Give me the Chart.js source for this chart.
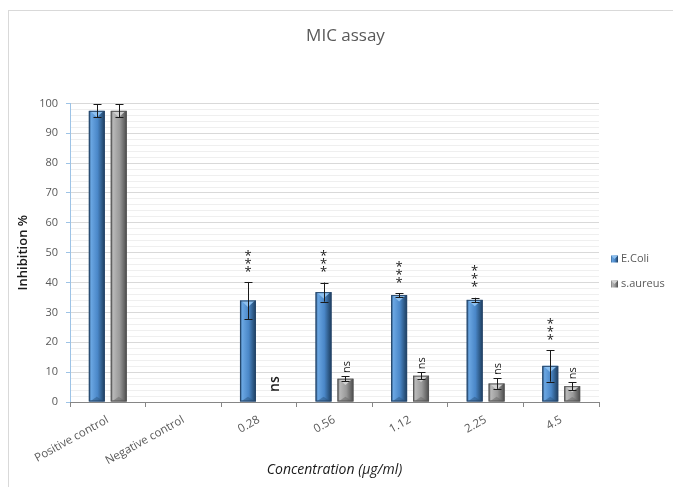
<!DOCTYPE html>
<html>
<head>
<meta charset="utf-8">
<script src="https://cdn.jsdelivr.net/npm/chart.js@4.4.1/dist/chart.umd.min.js"></script>
<style>
  html, body { margin: 0; padding: 0; background: #fff; }
</style>
</head>
<body>
<canvas id="micChart" width="673" height="487"></canvas>
<script>
// data
const categories = ['Positive control', 'Negative control', '0.28', '0.56', '1.12', '2.25', '4.5'];
const ecoliValues = [97.5, 0, 34, 36.8, 35.8, 34.2, 12.1];
const ecoliErrors = [2.2, 0, 6.2, 3.2, 0.7, 0.7, 5.3];
const aureusValues = [97.5, 0, 0, 7.8, 8.8, 6.2, 5.3];
const aureusErrors = [2.2, 0, 0, 0.9, 1.2, 1.8, 1.3];
const ecoliSig = ['', '', '***', '***', '***', '***', '***'];
const aureusSig = ['', '', 'ns', 'ns', 'ns', 'ns', 'ns'];
const seriesNames = ['E.Coli', 's.aureus'];

const FONT = "'Open Sans', 'Liberation Sans', sans-serif";
const palettes = [
    { edge: '#2b5580', dark: '#1f3d60', mid: '#4a87c8', light: '#6aa6e2', top: '#8cc0f0', line: '#27476b' },
    { edge: '#666666', dark: '#4a4a4a', mid: '#9a9a9a', light: '#b8b8b8', top: '#d0d0d0', line: '#555555' }
];
const errors = [ecoliErrors, aureusErrors];
const sigs = [ecoliSig, aureusSig];

function barFill(ctx, l, r, pal) {
    const g = ctx.createLinearGradient(l, 0, r, 0);
    g.addColorStop(0, pal.edge);
    g.addColorStop(0.15, pal.light);
    g.addColorStop(0.55, pal.mid);
    g.addColorStop(0.85, pal.edge);
    g.addColorStop(1, pal.dark);
    return g;
}

// outer frame like the spreadsheet chart box
const frame = {
    id: 'frame',
    beforeDraw(chart) {
        const ctx = chart.ctx;
        ctx.save();
        ctx.fillStyle = '#fff';
        ctx.fillRect(0, 0, chart.width, chart.height);
        ctx.strokeStyle = '#d9d9d9';
        ctx.lineWidth = 1;
        ctx.strokeRect(8.5, 10.5, chart.width + 20, chart.height + 20);
        ctx.restore();
    }
};

// bevelled bars, error bars and significance marks
const barLook = {
    id: 'barLook',
    afterDatasetsDraw(chart) {
        const ctx = chart.ctx;
        const yScale = chart.scales.y;
        ctx.save();
        chart.data.datasets.forEach((ds, di) => {
            const meta = chart.getDatasetMeta(di);
            const pal = palettes[di];
            meta.data.forEach((bar, i) => {
                const { x, y, base, width } = bar.getProps(['x', 'y', 'base', 'width'], true);
                const h = base - y;
                const l = x - width / 2, r = x + width / 2;
                if (h >= 1) {
                    ctx.fillStyle = barFill(ctx, l, r, pal);
                    ctx.fillRect(l, y, width, h);
                    const bev = Math.min(width / 2, h / 2);
                    ctx.fillStyle = pal.top;
                    ctx.beginPath();
                    ctx.moveTo(l + 1, y);
                    ctx.lineTo(r - 1, y);
                    ctx.lineTo(x, y + bev * 0.8);
                    ctx.closePath();
                    ctx.fill();
                    ctx.fillStyle = pal.edge;
                    ctx.globalAlpha = 0.5;
                    ctx.beginPath();
                    ctx.moveTo(l + 1, base);
                    ctx.lineTo(r - 1, base);
                    ctx.lineTo(x, base - bev * 0.6);
                    ctx.closePath();
                    ctx.fill();
                    ctx.globalAlpha = 1;
                    ctx.strokeStyle = pal.line;
                    ctx.lineWidth = 1;
                    ctx.strokeRect(l + 0.5, y + 0.5, width - 1, h - 1);
                }

                const v = ds.data[i];
                const e = errors[di][i];
                let markTop = y;
                if (e > 0) {
                    const yt = yScale.getPixelForValue(v + e);
                    const yb = yScale.getPixelForValue(v - e);
                    const cx = Math.round(x) + 0.5;
                    ctx.strokeStyle = '#1a1a1a';
                    ctx.lineWidth = 1;
                    ctx.beginPath();
                    ctx.moveTo(cx, yt); ctx.lineTo(cx, yb);
                    ctx.moveTo(cx - 4, Math.round(yt) + 0.5); ctx.lineTo(cx + 4, Math.round(yt) + 0.5);
                    ctx.moveTo(cx - 4, Math.round(yb) + 0.5); ctx.lineTo(cx + 4, Math.round(yb) + 0.5);
                    ctx.stroke();
                    markTop = yt;
                }

                const s = sigs[di][i];
                if (s === '***') {
                    ctx.fillStyle = '#1a1a1a';
                    ctx.font = '13px ' + FONT;
                    ctx.textAlign = 'center';
                    ctx.textBaseline = 'middle';
                    [29, 21, 13].forEach(off => ctx.fillText('*', x, markTop - off + 3));
                } else if (s === 'ns') {
                    ctx.fillStyle = '#1a1a1a';
                    const empty = v === 0 && e === 0;
                    ctx.font = (empty ? '600 14px ' : '11px ') + FONT;
                    ctx.textAlign = 'left';
                    ctx.textBaseline = 'middle';
                    ctx.save();
                    ctx.translate(empty ? x + 5 : x + 1, markTop - (empty ? 10 : 3));
                    ctx.rotate(-Math.PI / 2);
                    ctx.fillText('ns', 0, 0);
                    ctx.restore();
                }
            });
        });
        ctx.restore();
    }
};

// legend on the right, as in the spreadsheet chart
const sideLegend = {
    id: 'sideLegend',
    afterDraw(chart) {
        const ctx = chart.ctx;
        const rows = [259, 284];
        ctx.save();
        seriesNames.forEach((name, i) => {
            const pal = palettes[i];
            const yy = rows[i];
            ctx.fillStyle = barFill(ctx, 611, 618, pal);
            ctx.fillRect(611, yy - 3.5, 7, 7);
            ctx.fillStyle = pal.top;
            ctx.beginPath();
            ctx.moveTo(611, yy - 3.5); ctx.lineTo(618, yy - 3.5); ctx.lineTo(614.5, yy);
            ctx.closePath();
            ctx.fill();
            ctx.fillStyle = '#595959';
            ctx.font = '11px ' + FONT;
            ctx.textAlign = 'left';
            ctx.textBaseline = 'middle';
            ctx.fillText(name, 621, yy);
        });
        ctx.restore();
    }
};

new Chart(document.getElementById('micChart'), {
    type: 'bar',
    data: {
        labels: categories,
        datasets: [
            {
                label: seriesNames[0],
                data: ecoliValues,
                backgroundColor: 'rgba(0,0,0,0)',
                categoryPercentage: 0.58,
                barPercentage: 0.73
            },
            {
                label: seriesNames[1],
                data: aureusValues,
                backgroundColor: 'rgba(0,0,0,0)',
                categoryPercentage: 0.58,
                barPercentage: 0.73
            }
        ]
    },
    options: {
        responsive: false,
        animation: false,
        layout: { padding: { left: 18, right: 0, top: 0, bottom: 0 } },
        scales: {
            y: {
                min: 0,
                max: 100,
                afterFit(scale) { scale.width = 52; },
                ticks: {
                    stepSize: 2,
                    maxTicksLimit: 60,
                    autoSkip: false,
                    padding: 8,
                    color: '#595959',
                    font: { family: FONT, size: 11 },
                    callback: v => (v % 10 === 0 ? v : '')
                },
                grid: {
                    color: c => (c.tick && c.tick.value % 10 === 0 ? '#d9d9d9' : '#efefef'),
                    tickColor: c => (c.tick && c.tick.value % 10 === 0 ? '#9dc3e6' : 'rgba(0,0,0,0)'),
                    tickLength: 4
                },
                border: { color: '#9dc3e6' },
                title: {
                    display: true,
                    text: 'Inhibition %',
                    color: '#1a1a1a',
                    font: { family: FONT, size: 13, weight: '600' },
                    padding: { top: -3, bottom: 0 }
                }
            },
            // empty right axis keeps room for the legend
            side: {
                position: 'right',
                afterFit(scale) { scale.width = 74; },
                ticks: { display: false },
                grid: { display: false },
                border: { display: false }
            },
            x: {
                afterFit(scale) { scale.height = 85; },
                ticks: {
                    autoSkip: false,
                    minRotation: 29,
                    maxRotation: 29,
                    padding: 6,
                    color: '#595959',
                    font: { family: FONT, size: 11.5 }
                },
                grid: {
                    drawOnChartArea: false,
                    color: '#868686',
                    tickLength: 5
                },
                border: { color: '#868686' },
                title: {
                    display: true,
                    text: 'Concentration (µg/ml)',
                    color: '#1a1a1a',
                    font: { family: FONT, size: 14, style: 'italic' },
                    padding: { top: 0, bottom: 8.5 }
                }
            }
        },
        plugins: {
            legend: { display: false },
            tooltip: { enabled: false },
            title: {
                display: true,
                text: 'MIC assay',
                color: '#595959',
                font: { family: FONT, size: 17, weight: 'normal' },
                padding: { top: 26, bottom: 57 }
            }
        }
    },
    plugins: [frame, barLook, sideLegend]
});
</script>
</body>
</html>
